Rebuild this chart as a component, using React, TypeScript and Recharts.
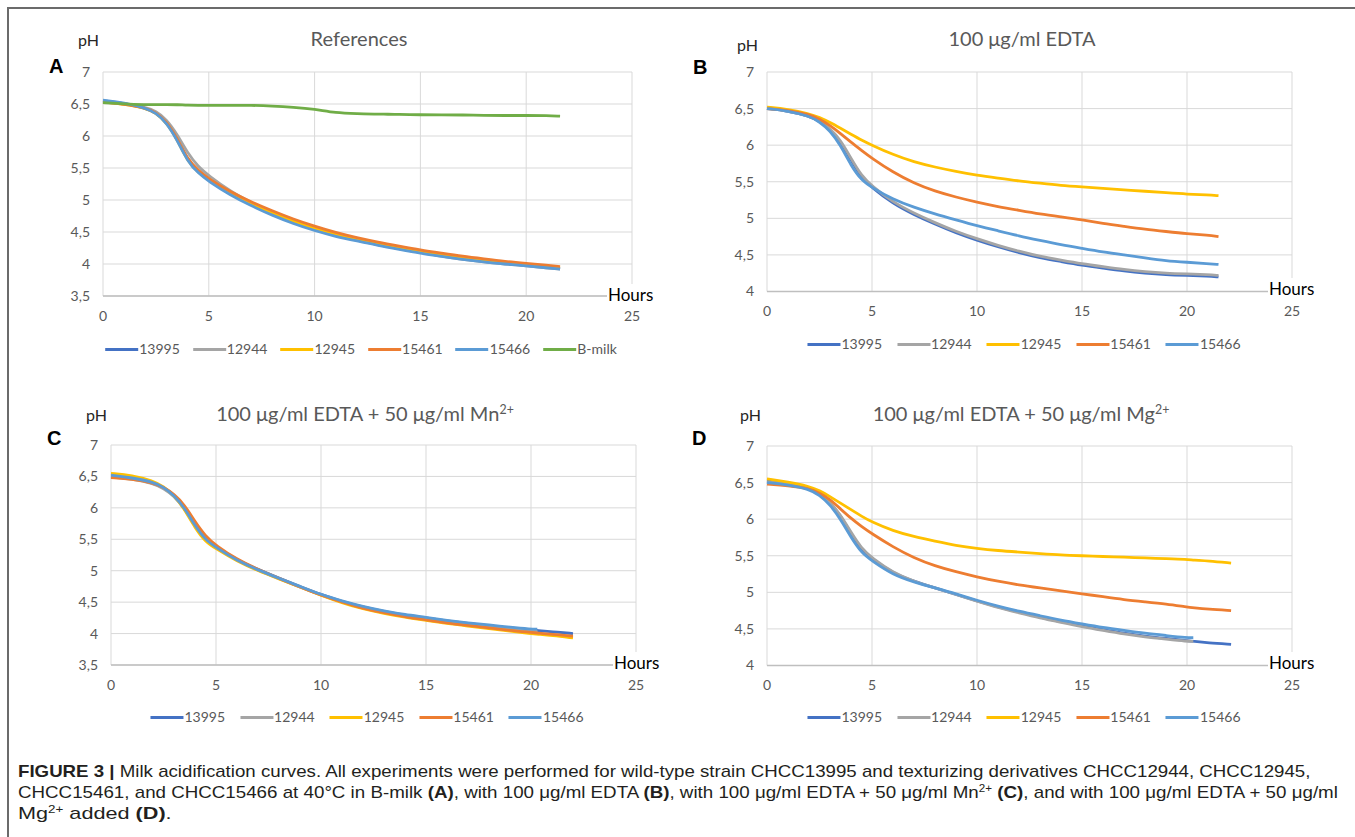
import React, { useLayoutEffect, useRef, useState } from 'react';
import { LineChart, Line, XAxis, YAxis, CartesianGrid } from 'recharts';

// ---------- data ----------
const strains = ['13995', '12944', '12945', '15461', '15466'];
const strainColors = ['#4472C4', '#A5A5A5', '#FFC000', '#ED7D31', '#5B9BD5'];
const bMilkColor = '#70AD47';
const xTicks = [0, 5, 10, 15, 20, 25];
const yTicksAC = [3.5, 4, 4.5, 5, 5.5, 6, 6.5, 7];
const yTicksBD = [4, 4.5, 5, 5.5, 6, 6.5, 7];

// Panel A: References
const hoursA = [0, 1, 2, 2.5, 3, 3.5, 4, 4.5, 5, 6, 7, 8, 9, 10, 11, 12, 13, 14, 15, 16, 17, 18, 19, 20, 21, 21.6];
const a13995 = [6.55, 6.51, 6.44, 6.37, 6.22, 5.96, 5.62, 5.44, 5.31, 5.1, 4.93, 4.78, 4.65, 4.54, 4.45, 4.37, 4.3, 4.24, 4.18, 4.13, 4.08, 4.04, 4.01, 3.98, 3.95, 3.93];
const a12944 = [6.54, 6.51, 6.45, 6.39, 6.26, 6.03, 5.73, 5.52, 5.38, 5.14, 4.96, 4.8, 4.66, 4.55, 4.45, 4.37, 4.3, 4.24, 4.18, 4.12, 4.07, 4.03, 4.0, 3.97, 3.94, 3.92];
const a12945 = [6.53, 6.5, 6.44, 6.36, 6.21, 5.95, 5.6, 5.43, 5.31, 5.1, 4.94, 4.79, 4.67, 4.56, 4.47, 4.39, 4.32, 4.26, 4.2, 4.15, 4.1, 4.06, 4.02, 3.99, 3.96, 3.94];
const a15461 = [6.53, 6.5, 6.44, 6.37, 6.23, 5.97, 5.63, 5.46, 5.33, 5.13, 4.97, 4.83, 4.7, 4.59, 4.49, 4.41, 4.34, 4.28, 4.22, 4.17, 4.12, 4.08, 4.04, 4.01, 3.98, 3.96];
const a15466 = [6.56, 6.52, 6.44, 6.36, 6.21, 5.94, 5.6, 5.42, 5.29, 5.08, 4.91, 4.76, 4.63, 4.52, 4.43, 4.36, 4.29, 4.23, 4.17, 4.12, 4.07, 4.03, 4.0, 3.97, 3.94, 3.92];
const aBmilk = [6.52, 6.5, 6.49, 6.49, 6.49, 6.49, 6.48, 6.48, 6.48, 6.48, 6.48, 6.47, 6.45, 6.42, 6.36, 6.35, 6.34, 6.34, 6.33, 6.33, 6.33, 6.32, 6.32, 6.32, 6.32, 6.31];

// Panel B: 100 µg/ml EDTA
const hoursB = [0, 1, 2, 2.5, 3, 3.5, 4, 4.5, 5, 6, 7, 8, 9, 10, 11, 12, 13, 14, 15, 16, 17, 18, 19, 20, 21, 21.5];
const b13995 = [6.5, 6.47, 6.4, 6.33, 6.22, 6.05, 5.8, 5.56, 5.42, 5.2, 5.05, 4.92, 4.8, 4.7, 4.61, 4.53, 4.46, 4.41, 4.36, 4.32, 4.28, 4.25, 4.23, 4.22, 4.21, 4.2];
const b12944 = [6.5, 6.47, 6.4, 6.33, 6.23, 6.07, 5.82, 5.58, 5.44, 5.22, 5.07, 4.94, 4.82, 4.72, 4.63, 4.55, 4.48, 4.43, 4.38, 4.34, 4.3, 4.27, 4.25, 4.24, 4.23, 4.22];
const b12945 = [6.52, 6.49, 6.43, 6.38, 6.31, 6.23, 6.15, 6.07, 6.0, 5.87, 5.77, 5.7, 5.64, 5.59, 5.55, 5.51, 5.48, 5.45, 5.43, 5.41, 5.39, 5.37, 5.35, 5.33, 5.32, 5.31];
const b15461 = [6.5, 6.48, 6.42, 6.36, 6.27, 6.16, 6.04, 5.93, 5.82, 5.63, 5.48, 5.37, 5.29, 5.22, 5.16, 5.11, 5.06, 5.02, 4.98, 4.93, 4.89, 4.85, 4.82, 4.79, 4.77, 4.75];
const b15466 = [6.5, 6.47, 6.4, 6.32, 6.2, 6.0, 5.72, 5.52, 5.42, 5.26, 5.15, 5.06, 4.98, 4.9, 4.83, 4.76, 4.7, 4.64, 4.59, 4.54, 4.5, 4.46, 4.42, 4.4, 4.38, 4.37];

// Panel C: 100 µg/ml EDTA + 50 µg/ml Mn2+
const hoursC = [0, 1, 2, 2.5, 3, 3.5, 4, 4.5, 5, 6, 7, 8, 9, 10, 11, 12, 13, 14, 15, 16, 17, 18, 19, 20, 20.3, 21, 22];
const c13995 = [6.5, 6.47, 6.4, 6.32, 6.2, 6.0, 5.72, 5.5, 5.38, 5.17, 5.02, 4.88, 4.75, 4.62, 4.51, 4.42, 4.35, 4.29, 4.25, 4.2, 4.16, 4.12, 4.09, 4.06, 4.05, 4.03, 4.0];
const c12944 = [6.49, 6.46, 6.39, 6.31, 6.19, 5.99, 5.71, 5.49, 5.37, 5.16, 5.01, 4.87, 4.74, 4.61, 4.5, 4.41, 4.34, 4.28, 4.24, 4.19, 4.15, 4.11, 4.08, 4.05, 4.04];
const c12945 = [6.55, 6.52, 6.43, 6.34, 6.2, 5.98, 5.68, 5.46, 5.35, 5.15, 5.0, 4.87, 4.74, 4.61, 4.49, 4.39, 4.32, 4.26, 4.21, 4.16, 4.12, 4.08, 4.04, 4.0, 3.99, 3.97, 3.93];
const c15461 = [6.48, 6.46, 6.4, 6.33, 6.22, 6.05, 5.78, 5.55, 5.4, 5.18, 5.02, 4.88, 4.74, 4.61, 4.5, 4.4, 4.33, 4.27, 4.22, 4.17, 4.13, 4.09, 4.05, 4.02, 4.01, 3.99, 3.96];
const c15466 = [6.52, 6.48, 6.41, 6.33, 6.2, 6.0, 5.71, 5.49, 5.37, 5.16, 5.01, 4.88, 4.75, 4.62, 4.52, 4.43, 4.36, 4.3, 4.26, 4.21, 4.17, 4.14, 4.1, 4.07, 4.07];

// Panel D: 100 µg/ml EDTA + 50 µg/ml Mg2+
const hoursD = [0, 1, 2, 2.5, 3, 3.5, 4, 4.5, 5, 6, 7, 8, 9, 10, 11, 12, 13, 14, 15, 16, 17, 18, 19, 20, 20.3, 21, 22.1];
const d13995 = [6.52, 6.49, 6.43, 6.35, 6.23, 6.05, 5.8, 5.58, 5.46, 5.26, 5.15, 5.06, 4.97, 4.88, 4.8, 4.73, 4.66, 4.6, 4.54, 4.49, 4.44, 4.4, 4.37, 4.34, 4.33, 4.31, 4.29];
const d12944 = [6.51, 6.48, 6.42, 6.35, 6.23, 6.06, 5.82, 5.6, 5.47, 5.27, 5.15, 5.06, 4.97, 4.88, 4.79, 4.72, 4.65, 4.59, 4.53, 4.48, 4.43, 4.39, 4.36, 4.33, 4.33];
const d12945 = [6.55, 6.51, 6.45, 6.39, 6.31, 6.22, 6.13, 6.04, 5.96, 5.84, 5.76, 5.7, 5.64, 5.6, 5.57, 5.55, 5.53, 5.51, 5.5, 5.49, 5.48, 5.47, 5.46, 5.45, 5.44, 5.43, 5.4];
const d15461 = [6.48, 6.46, 6.42, 6.36, 6.27, 6.14, 6.01, 5.9, 5.8, 5.62, 5.47, 5.36, 5.28, 5.21, 5.15, 5.1, 5.06, 5.02, 4.98, 4.94, 4.9, 4.87, 4.84, 4.8, 4.79, 4.77, 4.75];
const d15466 = [6.5, 6.47, 6.41, 6.33, 6.2, 6.0, 5.75, 5.54, 5.43, 5.24, 5.14, 5.06, 4.98, 4.89, 4.81, 4.74, 4.68, 4.62, 4.57, 4.52, 4.48, 4.44, 4.41, 4.38, 4.38];

// ---------- helpers ----------
type SeriesDef = { key: string; color: string; values: number[] };

function buildRows(hours: number[], series: SeriesDef[]) {
  return hours.map((t, i) => {
    const row: Record<string, number | undefined> = { t };
    series.forEach((s) => {
      row[s.key] = i < s.values.length ? s.values[i] : undefined;
    });
    return row;
  });
}

const CHART_FONT = 'Lato, "Open Sans", sans-serif';
const TICK_COLOR = '#595959';

type PanelProps = {
  x0: number; x1: number; y0: number; y1: number;
  yDomain: [number, number]; yTicks: number[];
  hours: number[]; series: SeriesDef[];
  title: React.ReactNode; titleCx: number; titleCy: number;
  letter: string; letterX: number; letterCy: number;
  phX: number; phCy: number;
  hoursX: number; hoursCy: number;
  legendCx: number; legendCy: number; legendGap: number;
};

function Panel(p: PanelProps) {
  const padL = 60, padR = 20, padT = 10, padB = 10, xAxisH = 30;
  const W = p.x1 - p.x0 + padL + padR;
  const H = p.y1 - p.y0 + padT + padB + xAxisH;
  const rows = buildRows(p.hours, p.series);
  const text: React.CSSProperties = { position: 'absolute', whiteSpace: 'nowrap', fontFamily: CHART_FONT };
  return (
    <>
      <div style={{ position: 'absolute', left: p.x0 - padL, top: p.y0 - padT }}>
        <LineChart width={W} height={H} data={rows} margin={{ top: padT, right: padR, bottom: padB, left: 0 }}>
          <CartesianGrid stroke="#d9d9d9" strokeWidth={1} />
          <XAxis
            type="number" dataKey="t" domain={[0, 25]} ticks={xTicks} interval={0}
            height={xAxisH} tickLine={false} axisLine={{ stroke: '#bfbfbf', strokeWidth: 1.5 }}
            tickMargin={9}
            tick={{ fill: TICK_COLOR, fontSize: 14, fontFamily: CHART_FONT }}
          />
          <YAxis
            type="number" domain={p.yDomain} ticks={p.yTicks} interval={0} width={padL}
            axisLine={false} tickLine={false} tickMargin={7}
            tickFormatter={(v: number) => String(v).replace('.', ',')}
            tick={{ fill: TICK_COLOR, fontSize: 14, fontFamily: CHART_FONT }}
          />
          {p.series.map((s) => (
            <Line
              key={s.key} dataKey={s.key} stroke={s.color} strokeWidth={2.8} type="basis"
              dot={false} activeDot={false} isAnimationActive={false} connectNulls={false}
            />
          ))}
        </LineChart>
      </div>
      <div style={{ ...text, left: p.titleCx, top: p.titleCy - 13, transform: 'translateX(-50%)', fontSize: 20, lineHeight: '26px', color: TICK_COLOR }}>
        {p.title}
      </div>
      <div style={{ ...text, left: p.phX, top: p.phCy - 10, fontSize: 16, lineHeight: '20px', color: '#262626' }}>pH</div>
      <div style={{ ...text, left: p.letterX, top: p.letterCy - 11, fontSize: 20, lineHeight: '22px', fontWeight: 'bold', fontFamily: '"Liberation Sans", Arial, sans-serif', color: '#000' }}>
        {p.letter}
      </div>
      <div style={{ ...text, left: p.hoursX, top: p.hoursCy - 11, fontSize: 17, lineHeight: '22px', color: '#000', background: '#fff', padding: '0 1px' }}>
        Hours
      </div>
      <div style={{ ...text, left: p.legendCx, top: p.legendCy - 9, transform: 'translateX(-50%)', display: 'flex', alignItems: 'center', fontSize: 14, lineHeight: '18px', color: TICK_COLOR }}>
        {p.series.map((s, i) => (
          <div key={s.key} style={{ display: 'flex', alignItems: 'center', marginLeft: i === 0 ? 0 : p.legendGap }}>
            <div style={{ width: 33, height: 3, background: s.color, marginRight: 1 }} />
            <span>{s.key}</span>
          </div>
        ))}
      </div>
    </>
  );
}

function FitLine({ left, cy, width, children }: { left: number; cy: number; width: number; children: React.ReactNode }) {
  const ref = useRef<HTMLDivElement>(null);
  const [sx, setSx] = useState(1);
  useLayoutEffect(() => {
    if (ref.current) {
      const w = ref.current.offsetWidth;
      if (w > 0) setSx(width / w);
    }
  }, [width]);
  return (
    <div
      ref={ref}
      style={{
        position: 'absolute', left, top: cy - 11, whiteSpace: 'nowrap', fontSize: 17, lineHeight: '22px',
        fontFamily: '"Liberation Sans Narrow", "Liberation Sans", Arial, sans-serif', color: '#231f20',
        transform: `scaleX(${sx})`, transformOrigin: '0 0',
      }}
    >
      {children}
    </div>
  );
}

const supStyle: React.CSSProperties = { fontSize: '0.62em', verticalAlign: '0.55em', lineHeight: 0 };

export default function App() {
  const seriesA: SeriesDef[] = [
    { key: strains[0], color: strainColors[0], values: a13995 },
    { key: strains[1], color: strainColors[1], values: a12944 },
    { key: strains[2], color: strainColors[2], values: a12945 },
    { key: strains[3], color: strainColors[3], values: a15461 },
    { key: strains[4], color: strainColors[4], values: a15466 },
    { key: 'B-milk', color: bMilkColor, values: aBmilk },
  ];
  const seriesB: SeriesDef[] = [b13995, b12944, b12945, b15461, b15466].map((v, i) => ({ key: strains[i], color: strainColors[i], values: v }));
  const seriesC: SeriesDef[] = [c13995, c12944, c12945, c15461, c15466].map((v, i) => ({ key: strains[i], color: strainColors[i], values: v }));
  const seriesD: SeriesDef[] = [d13995, d12944, d12945, d15461, d15466].map((v, i) => ({ key: strains[i], color: strainColors[i], values: v }));

  return (
    <div style={{ position: 'absolute', left: 0, top: 0, width: 1355, height: 837, background: '#fff', overflow: 'hidden' }}>
      {/* frame */}
      <div style={{ position: 'absolute', left: 7, top: 7, width: 1360, height: 840, borderTop: '2px solid #6b6b6b', borderLeft: '2px solid #6b6b6b' }} />

      <Panel
        x0={103} x1={632} y0={72} y1={296} yDomain={[3.5, 7]} yTicks={yTicksAC}
        hours={hoursA} series={seriesA}
        title="References" titleCx={359} titleCy={38}
        letter="A" letterX={49} letterCy={66} phX={78} phCy={40}
        hoursX={607} hoursCy={295} legendCx={361} legendCy={349} legendGap={13}
      />
      <Panel
        x0={767} x1={1292} y0={72} y1={291.5} yDomain={[4, 7]} yTicks={yTicksBD}
        hours={hoursB} series={seriesB}
        title="100 μg/ml EDTA" titleCx={1022} titleCy={38}
        letter="B" letterX={693} letterCy={67} phX={737} phCy={45}
        hoursX={1268} hoursCy={289} legendCx={1024} legendCy={344} legendGap={15}
      />
      <Panel
        x0={111} x1={636} y0={445} y1={665} yDomain={[3.5, 7]} yTicks={yTicksAC}
        hours={hoursC} series={seriesC}
        title={<span>100 μg/ml EDTA + 50 μg/ml Mn<span style={supStyle}>2+</span></span>} titleCx={365} titleCy={413}
        letter="C" letterX={47} letterCy={438} phX={86} phCy={415}
        hoursX={613} hoursCy={663} legendCx={367} legendCy={717} legendGap={15}
      />
      <Panel
        x0={767} x1={1292} y0={445.5} y1={665} yDomain={[4, 7]} yTicks={yTicksBD}
        hours={hoursD} series={seriesD}
        title={<span>100 μg/ml EDTA + 50 μg/ml Mg<span style={supStyle}>2+</span></span>} titleCx={1021} titleCy={413}
        letter="D" letterX={692} letterCy={438} phX={740} phCy={415}
        hoursX={1268} hoursCy={663} legendCx={1024} legendCy={717} legendGap={15}
      />

      <FitLine left={18} cy={772} width={1292}>
        <b>FIGURE 3 |</b> Milk acidification curves. All experiments were performed for wild-type strain CHCC13995 and texturizing derivatives CHCC12944, CHCC12945,
      </FitLine>
      <FitLine left={18} cy={793} width={1320}>
        CHCC15461, and CHCC15466 at 40°C in B-milk <b>(A)</b>, with 100 μg/ml EDTA <b>(B)</b>, with 100 μg/ml EDTA + 50 μg/ml Mn<span style={supStyle}>2+</span> <b>(C)</b>, and with 100 μg/ml EDTA + 50 μg/ml
      </FitLine>
      <FitLine left={18} cy={814} width={154}>
        Mg<span style={supStyle}>2+</span> added <b>(D)</b>.
      </FitLine>
    </div>
  );
}
